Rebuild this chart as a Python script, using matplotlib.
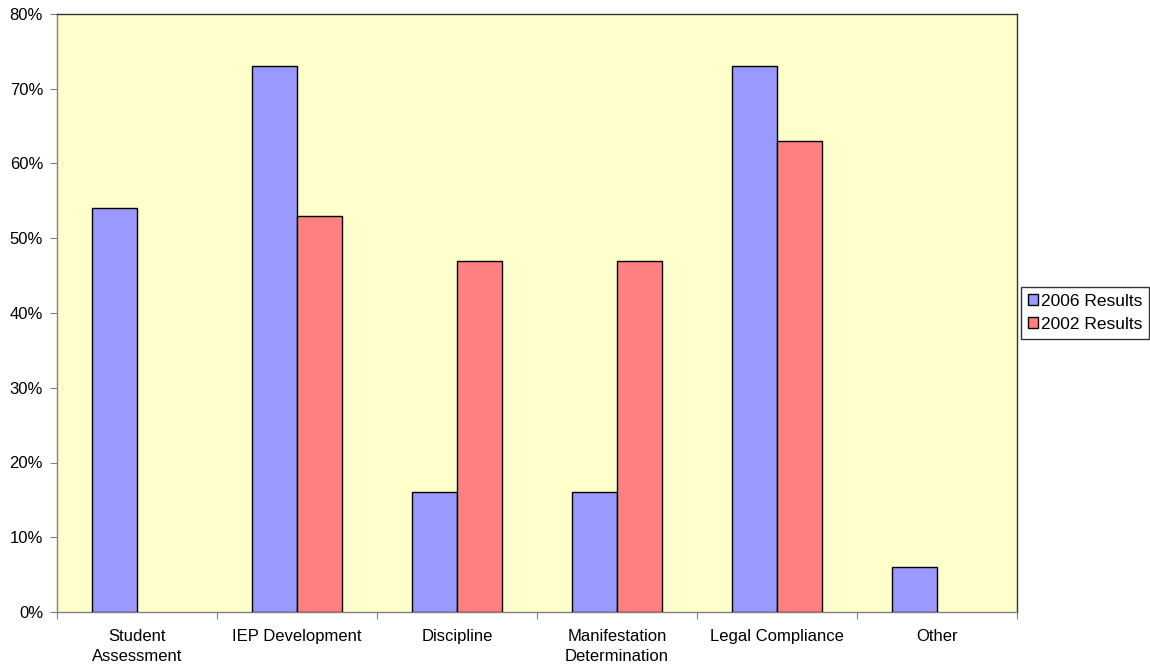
import matplotlib
matplotlib.use("Agg")
import matplotlib.pyplot as plt
import numpy as np
from matplotlib.ticker import FuncFormatter, FixedLocator
from matplotlib.patches import Patch

categories = ["Student\nAssessment", "IEP Development", "Discipline",
              "Manifestation\nDetermination", "Legal Compliance", "Other"]
results_2006 = [54, 73, 16, 16, 73, 6]
results_2002 = [0, 53, 47, 47, 63, 0]
series_labels = ["2006 Results", "2002 Results"]
colors = ['#9999FF', '#FF8080']

plt.rcParams['font.family'] = ['Liberation Sans', 'DejaVu Sans']

fig = plt.figure(figsize=(11.5, 6.69), dpi=100)
ax = fig.add_axes([57/1150, 1 - 612/669, 960/1150, (612-14)/669])
ax.set_facecolor('#FFFFCC')

x = np.arange(len(categories))
w = 0.28
b1 = ax.bar(x - w/2, results_2006, w, color=colors[0], edgecolor='black', linewidth=1, zorder=3)
b2 = ax.bar(x + w/2, results_2002, w, color=colors[1], edgecolor='black', linewidth=1, zorder=3)
for bars, vals in ((b1, results_2006), (b2, results_2002)):
    for r, v in zip(bars, vals):
        if v == 0:
            r.set_visible(False)

ax.set_xlim(-0.5, len(categories) - 0.5)
ax.set_ylim(0, 80)
ax.set_yticks(np.arange(0, 81, 10))
ax.yaxis.set_major_formatter(FuncFormatter(lambda v, p: f"{int(v)}%"))
ax.xaxis.set_major_locator(FixedLocator(np.arange(-0.5, len(categories), 1)))
ax.set_xticklabels([])
ax.xaxis.set_minor_locator(FixedLocator(x))
ax.set_xticklabels(categories, minor=True, fontsize=12, linespacing=1.45)
ax.tick_params(axis='x', which='minor', length=0, pad=12)
ax.tick_params(axis='x', which='major', length=5, color='#808080', direction='out')
ax.tick_params(axis='y', length=5, color='#808080', labelsize=12, pad=5)
for s in ax.spines.values():
    s.set_color('#333333')
    s.set_linewidth(1)
ax.spines['left'].set_color('#808080')
ax.spines['bottom'].set_color('#808080')

handles = [Patch(facecolor=c, edgecolor='black', linewidth=1) for c in colors]
leg = ax.legend(handles, series_labels, loc='center left', bbox_to_anchor=(1.004, 0.5), fontsize=12.5,
                frameon=True, fancybox=False, edgecolor='black', handlelength=0.6,
                handleheight=0.6, handletextpad=0.15, borderpad=0.4, labelspacing=0.45,
                borderaxespad=0)
leg.get_frame().set_linewidth(1)

fig.savefig("out.png", dpi=100, facecolor='white')
